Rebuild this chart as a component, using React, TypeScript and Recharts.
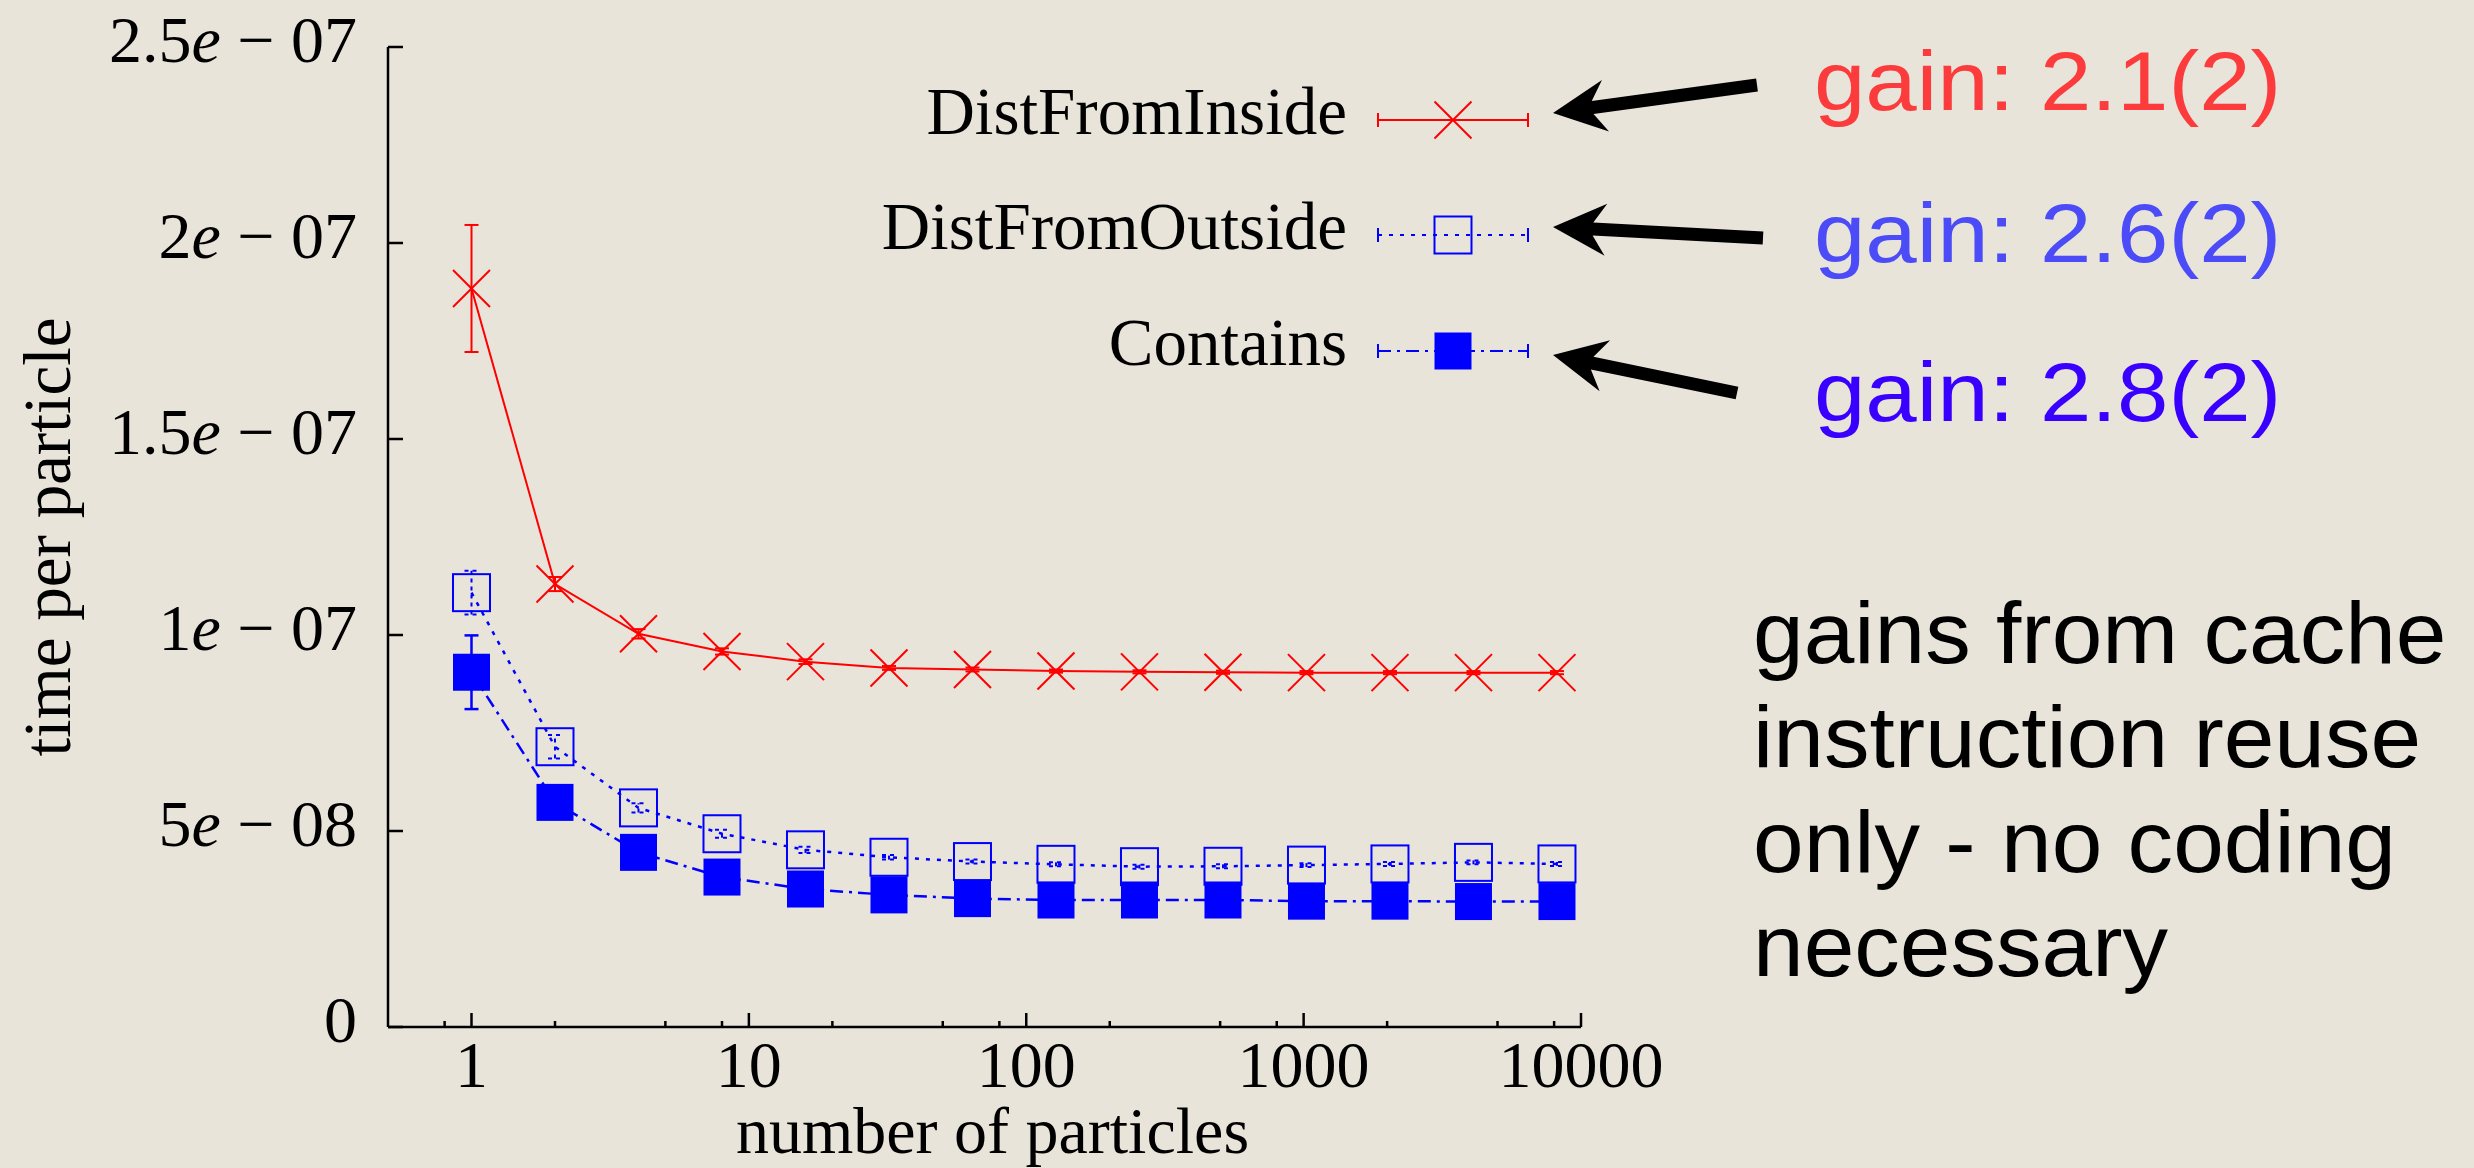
import React from 'react';
import { ComposedChart, Line, XAxis, YAxis, ErrorBar, Legend } from 'recharts';

// ---------- data ----------
const particles = [1, 2, 4, 8, 16, 32, 64, 128, 256, 512, 1024, 2048, 4096, 8192];
const distFromInside = [1.884e-7, 1.13e-7, 1.003e-7, 0.958e-7, 0.932e-7, 0.916e-7, 0.912e-7, 0.908e-7, 0.906e-7, 0.905e-7, 0.904e-7, 0.904e-7, 0.904e-7, 0.904e-7];
const distFromInsideErr = [0.162e-7, 0.018e-7, 0.012e-7, 0.008e-7, 0.006e-7, 0.005e-7, 0.005e-7, 0.004e-7, 0.004e-7, 0.004e-7, 0.004e-7, 0.004e-7, 0.004e-7, 0.004e-7];
const distFromOutside = [1.108e-7, 0.715e-7, 0.559e-7, 0.493e-7, 0.452e-7, 0.433e-7, 0.422e-7, 0.415e-7, 0.409e-7, 0.41e-7, 0.413e-7, 0.416e-7, 0.42e-7, 0.416e-7];
const distFromOutsideErr = [0.056e-7, 0.03e-7, 0.012e-7, 0.01e-7, 0.008e-7, 0.006e-7, 0.005e-7, 0.005e-7, 0.005e-7, 0.005e-7, 0.005e-7, 0.005e-7, 0.005e-7, 0.005e-7];
const contains = [0.905e-7, 0.573e-7, 0.4455e-7, 0.3825e-7, 0.352e-7, 0.337e-7, 0.3275e-7, 0.324e-7, 0.324e-7, 0.324e-7, 0.321e-7, 0.321e-7, 0.32e-7, 0.32e-7];
const containsErr = [0.094e-7, 0.02e-7, 0.01e-7, 0.008e-7, 0.006e-7, 0.005e-7, 0.005e-7, 0.005e-7, 0.005e-7, 0.005e-7, 0.005e-7, 0.005e-7, 0.005e-7, 0.005e-7];

const seriesNames = ['DistFromInside', 'DistFromOutside', 'Contains'];
const xMajorTicks = [1, 10, 100, 1000, 10000];
const xTickLabels = ['1', '10', '100', '1000', '10000'];
const xMinorTicks = [0.8, 2, 5, 8, 20, 50, 80, 200, 500, 800, 2000, 5000, 8000];
const yTicks = [0, 5e-8, 1e-7, 1.5e-7, 2e-7, 2.5e-7];
const yTickLabels = ['0', '5e-08', '1e-07', '1.5e-07', '2e-07', '2.5e-07'];
const xTitle = 'number of particles';
const yTitle = 'time per particle';
const gainLabels = ['gain: 2.1(2)', 'gain: 2.6(2)', 'gain: 2.8(2)'];
const noteLines = ['gains from cache', 'instruction reuse', 'only - no coding', 'necessary'];

// ---------- styles ----------
const BG = '#e8e4da';
const SERIF = '"Liberation Serif", "Times New Roman", serif';
const SANS = '"Liberation Sans", Arial, sans-serif';
const RED = '#ff0000';
const BLUE = '#0000ff';
const FRAME_W = 2.5;
const MARK = 18.5;

const data = particles.map((n, i) => ({
  n,
  inside: distFromInside[i],
  insideErr: distFromInsideErr[i],
  outside: distFromOutside[i],
  outsideErr: distFromOutsideErr[i],
  contains: contains[i],
  containsErr: containsErr[i],
}));

const allXTicks = [...xMinorTicks, ...xMajorTicks].sort((a, b) => a - b);

// ---------- markers ----------
const CrossMark = ({ cx, cy, s = MARK }: any) => (
  <g>
    <line x1={cx - s} y1={cy - s} x2={cx + s} y2={cy + s} stroke={RED} strokeWidth={2} />
    <line x1={cx - s} y1={cy + s} x2={cx + s} y2={cy - s} stroke={RED} strokeWidth={2} />
  </g>
);
const OpenSquare = ({ cx, cy, s = MARK }: any) => (
  <rect x={cx - s} y={cy - s} width={2 * s} height={2 * s} fill="none" stroke={BLUE} strokeWidth={2} />
);
const FilledSquare = ({ cx, cy, s = MARK }: any) => (
  <rect x={cx - s} y={cy - s} width={2 * s} height={2 * s} fill={BLUE} stroke="none" />
);

const seriesStyle: Record<string, any> = {
  inside: { color: RED, dash: undefined, Mark: CrossMark },
  outside: { color: BLUE, dash: '4 7', Mark: OpenSquare },
  contains: { color: BLUE, dash: '13 6 3 6', Mark: FilledSquare },
};

// ---------- ticks ----------
const BottomTick = (props: any) => {
  const { x, y, payload } = props;
  const mi = xMajorTicks.indexOf(payload.value);
  const major = mi >= 0;
  return (
    <g>
      <line x1={x} x2={x} y1={y} y2={y - (major ? 14 : 6)} stroke="#000" strokeWidth={FRAME_W} />
      {major && (
        <text x={x} y={y + 60} textAnchor="middle" fontFamily={SERIF} fontSize={66} fill="#000">
          {xTickLabels[mi]}
        </text>
      )}
    </g>
  );
};
const TopTick = (props: any) => {
  const { x, y, payload } = props;
  const major = xMajorTicks.indexOf(payload.value) >= 0;
  return <line x1={x} x2={x} y1={y} y2={y + (major ? 14 : 7)} stroke="#000" strokeWidth={FRAME_W} />;
};
const LeftTick = (props: any) => {
  const { x, y, payload, index } = props;
  let i = yTicks.indexOf(payload.value);
  if (i < 0) i = index;
  const label = yTickLabels[i] || '';
  const parts = label.split('e');
  return (
    <g>
      <line x1={x} x2={x + 15} y1={y} y2={y} stroke="#000" strokeWidth={FRAME_W} />
      <text x={x - 31} y={y + 15} textAnchor="end" fontFamily={SERIF} fontSize={66} fill="#000">
        {parts.length === 1 ? (
          parts[0]
        ) : (
          <>
            {parts[0]}
            <tspan fontStyle="italic">e</tspan>
            {' \u2212 '}
            {parts[1].replace('-', '')}
          </>
        )}
      </text>
    </g>
  );
};
const RightTick = (props: any) => {
  const { x, y } = props;
  return <line x1={x} x2={x - 15} y1={y} y2={y} stroke="#000" strokeWidth={FRAME_W} />;
};

// ---------- legend ----------
const LEG_ROWS = [60, 175, 291];
const renderLegend = (props: any) => {
  const payload = [...(props.payload || [])].sort(
    (a: any, b: any) => seriesNames.indexOf(a.value) - seriesNames.indexOf(b.value)
  );
  return (
    <svg width={720} height={340} style={{ display: 'block', overflow: 'visible' }}>
      {payload.map((p: any, i: number) => {
        const st = seriesStyle[p.dataKey] || seriesStyle.inside;
        const y = LEG_ROWS[i];
        const Mark = st.Mark;
        return (
          <g key={p.value}>
            <text x={487} y={y + 14} textAnchor="end" fontFamily={SERIF} fontSize={67} fill="#000">
              {p.value}
            </text>
            <line x1={518} x2={668} y1={y} y2={y} stroke={st.color} strokeWidth={2} strokeDasharray={st.dash} />
            <line x1={518} x2={518} y1={y - 7} y2={y + 7} stroke={st.color} strokeWidth={2} />
            <line x1={668} x2={668} y1={y - 7} y2={y + 7} stroke={st.color} strokeWidth={2} />
            <Mark cx={593} cy={y} />
          </g>
        );
      })}
    </svg>
  );
};

// ---------- annotations ----------
const arrows = [
  { tip: [1553, 113], tail: [1757, 85] },
  { tip: [1553, 227], tail: [1763, 238] },
  { tip: [1553, 355], tail: [1737, 393] },
];
const gainColors = ['#fc3c3c', '#4b4bf7', '#3a00ff'];
const gainBaselines = [110, 262, 421];
const noteBaselines = [663, 767, 872, 976];

function arrowPoints(tip: number[], tail: number[]) {
  const [tx, ty] = tip;
  const dx = tail[0] - tx;
  const dy = tail[1] - ty;
  const len = Math.hypot(dx, dy);
  const ux = dx / len;
  const uy = dy / len;
  const nx = -uy;
  const ny = ux;
  const pts = [
    [0, 0],
    [53, 26],
    [40, 6.5],
    [len, 6.5],
    [len, -6.5],
    [40, -6.5],
    [53, -26],
  ];
  return pts.map(([u, v]) => `${tx + u * ux + v * nx},${ty + u * uy + v * ny}`).join(' ');
}

const dotFor = (key: string) => (props: any) => {
  const { cx, cy, index } = props;
  if (cx == null || cy == null) return <g key={`${key}-${index}`} />;
  const Mark = seriesStyle[key].Mark;
  return (
    <g key={`${key}-${index}`}>
      <Mark cx={cx} cy={cy} />
    </g>
  );
};

const GAIN_X = 1814;
const NOTE_X = 1753;

export default function App() {
  return (
    <div style={{ position: 'absolute', left: 0, top: 0, width: 2474, height: 1168, background: BG, overflow: 'hidden' }}>
      <ComposedChart width={2474} height={1168} data={data} margin={{ top: 47, right: 893, left: 0, bottom: 0 }}>
        <XAxis
          dataKey="n"
          type="number"
          scale="log"
          domain={[0.5, 10000]}
          allowDataOverflow
          ticks={allXTicks}
          interval={0}
          height={141}
          tickSize={0}
          tickMargin={0}
          tickLine={false}
          tick={BottomTick}
          axisLine={{ stroke: '#000', strokeWidth: FRAME_W }}
          label={{
            content: (p: any) => {
              const vb = p.viewBox || { x: 388, y: 1027, width: 1193 };
              return (
                <text x={vb.x + vb.width / 2 + 8} y={vb.y + 126} textAnchor="middle" fontFamily={SERIF} fontSize={66} fill="#000">
                  {xTitle}
                </text>
              );
            },
          }}
        />
        <XAxis
          xAxisId="top"
          orientation="top"
          dataKey="n"
          type="number"
          scale="log"
          domain={[0.5, 10000]}
          allowDataOverflow
          ticks={allXTicks}
          interval={0}
          height={0}
          tickSize={0}
          tickMargin={0}
          tickLine={false}
          tick={TopTick}
          axisLine={{ stroke: '#000', strokeWidth: FRAME_W }}
        />
        <YAxis
          type="number"
          domain={[0, 2.5e-7]}
          allowDataOverflow
          ticks={yTicks}
          interval={0}
          width={388}
          tickSize={0}
          tickMargin={0}
          tickLine={false}
          tick={LeftTick}
          axisLine={{ stroke: '#000', strokeWidth: FRAME_W }}
          label={{
            content: (p: any) => {
              const vb = p.viewBox || { x: 0, y: 47, width: 388, height: 980 };
              const cx = vb.x + 70;
              const cy = vb.y + vb.height / 2;
              return (
                <text x={cx} y={cy} transform={`rotate(-90 ${cx} ${cy})`} textAnchor="middle" fontFamily={SERIF} fontSize={67} fill="#000">
                  {yTitle}
                </text>
              );
            },
          }}
        />
        <YAxis
          yAxisId="right"
          orientation="right"
          type="number"
          domain={[0, 2.5e-7]}
          allowDataOverflow
          ticks={yTicks}
          interval={0}
          width={0}
          tickSize={0}
          tickMargin={0}
          tickLine={false}
          tick={RightTick}
          axisLine={{ stroke: '#000', strokeWidth: FRAME_W }}
        />
        <Legend
          layout="vertical"
          align="center"
          verticalAlign="middle"
          wrapperStyle={{ position: 'absolute', left: 860, top: 60, width: 720, height: 340 }}
          content={renderLegend}
        />
        <Line
          name={seriesNames[0]}
          dataKey="inside"
          stroke={RED}
          strokeWidth={2}
          dot={dotFor('inside')}
          activeDot={false}
          isAnimationActive={false}
        >
          <ErrorBar dataKey="insideErr" width={7} stroke={RED} strokeWidth={2} direction="y" />
        </Line>
        <Line
          name={seriesNames[1]}
          dataKey="outside"
          stroke={BLUE}
          strokeWidth={2.5}
          strokeDasharray="4 7"
          dot={dotFor('outside')}
          activeDot={false}
          isAnimationActive={false}
        >
          <ErrorBar dataKey="outsideErr" width={7} stroke={BLUE} strokeWidth={2} strokeDasharray="4 4" direction="y" />
        </Line>
        <Line
          name={seriesNames[2]}
          dataKey="contains"
          stroke={BLUE}
          strokeWidth={2.5}
          strokeDasharray="13 6 3 6"
          dot={dotFor('contains')}
          activeDot={false}
          isAnimationActive={false}
        >
          <ErrorBar dataKey="containsErr" width={7} stroke={BLUE} strokeWidth={2.5} direction="y" />
        </Line>
      </ComposedChart>
      <svg width={2474} height={1168} style={{ position: 'absolute', left: 0, top: 0, pointerEvents: 'none' }}>
        {arrows.map((a, i) => (
          <polygon key={i} points={arrowPoints(a.tip, a.tail)} fill="#000" />
        ))}
        <g transform={`translate(${GAIN_X} 0) scale(1.1 1) translate(${-GAIN_X} 0)`}>
          {gainLabels.map((g, i) => (
            <text key={g} x={GAIN_X} y={gainBaselines[i]} fontFamily={SANS} fontSize={84} fill={gainColors[i]}>
              {g}
            </text>
          ))}
        </g>
        <g transform={`translate(${NOTE_X} 0) scale(1.035 1) translate(${-NOTE_X} 0)`}>
          {noteLines.map((t, i) => (
            <text key={t} x={NOTE_X} y={noteBaselines[i]} fontFamily={SANS} fontSize={88} fill="#000">
              {t}
            </text>
          ))}
        </g>
      </svg>
    </div>
  );
}
